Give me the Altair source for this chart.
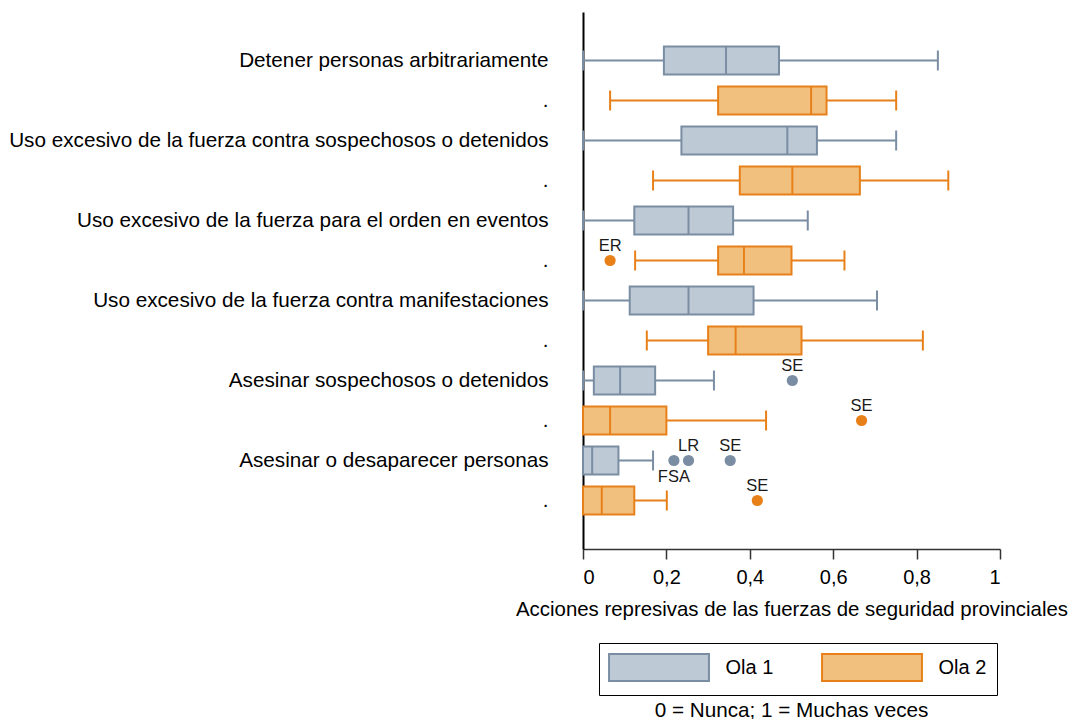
import altair as alt
import pandas as pd

categories = [
    "Detener personas arbitrariamente",
    "Uso excesivo de la fuerza contra sospechosos o detenidos",
    "Uso excesivo de la fuerza para el orden en eventos",
    "Uso excesivo de la fuerza contra manifestaciones",
    "Asesinar sospechosos o detenidos",
    "Asesinar o desaparecer personas",
]
waves = ["Ola 1", "Ola 2"]

ola1_low = [0.0, 0.0, 0.0, 0.0, 0.0, 0.0]
ola1_q1 = [0.194, 0.236, 0.123, 0.112, 0.026, 0.0]
ola1_med = [0.343, 0.490, 0.253, 0.253, 0.089, 0.022]
ola1_q3 = [0.470, 0.561, 0.360, 0.409, 0.173, 0.085]
ola1_high = [0.851, 0.751, 0.539, 0.705, 0.314, 0.168]

ola2_low = [0.065, 0.168, 0.125, 0.153, 0.0, 0.0]
ola2_q1 = [0.324, 0.376, 0.324, 0.300, 0.0, 0.0]
ola2_med = [0.547, 0.502, 0.386, 0.366, 0.065, 0.045]
ola2_q3 = [0.584, 0.664, 0.500, 0.524, 0.200, 0.123]
ola2_high = [0.751, 0.876, 0.627, 0.815, 0.439, 0.201]

out_cat = [2, 4, 4, 5, 5, 5, 5]
out_wave = ["Ola 2", "Ola 1", "Ola 2", "Ola 1", "Ola 1", "Ola 1", "Ola 2"]
out_value = [0.065, 0.502, 0.668, 0.218, 0.253, 0.353, 0.418]
out_label = ["ER", "SE", "SE", "FSA", "LR", "SE", "SE"]
out_side = ["above", "above", "above", "below", "above", "above", "above"]

FONT = "Liberation Sans"
FILL = ["#bdc9d5", "#f1c07f"]
STROKE = ["#7a8da3", "#e8801a"]


def key(i, w):
    return categories[i] if w == "Ola 1" else categories[i] + "#2"


rows = []
for i in range(len(categories)):
    rows.append(dict(key=key(i, "Ola 1"), ola="Ola 1", low=ola1_low[i], q1=ola1_q1[i],
                     med=ola1_med[i], q3=ola1_q3[i], high=ola1_high[i]))
    rows.append(dict(key=key(i, "Ola 2"), ola="Ola 2", low=ola2_low[i], q1=ola2_q1[i],
                     med=ola2_med[i], q3=ola2_q3[i], high=ola2_high[i]))
box_df = pd.DataFrame(rows)
box_df["grupo"] = box_df["ola"]
ydomain = [r["key"] for r in rows]

out_df = pd.DataFrame(dict(
    key=[key(c, w) for c, w in zip(out_cat, out_wave)],
    grupo=out_wave, value=out_value, label=out_label, side=out_side,
))

xscale = alt.Scale(domain=[0, 1], nice=False, zero=False)
yscale = alt.Scale(type="band", domain=ydomain, paddingInner=0, paddingOuter=0.7125)

xaxis = alt.Axis(
    values=[0, 0.2, 0.4, 0.6, 0.8, 1],
    labelExpr="replace(format(datum.value, '.1~f'), '.', ',')",
    grid=False, domainColor="#333333", domainWidth=1.5, tickColor="#333333",
    tickWidth=1.5, tickSize=10, labelFont=FONT, labelFontSize=20, labelColor="#000000",
    labelPadding=8, title="Acciones represivas de las fuerzas de seguridad provinciales",
    titleFont=FONT, titleFontSize=20.4, titleFontWeight="normal", titleColor="#000000",
    titlePadding=12,
)
yaxis = alt.Axis(
    title=None, ticks=False, tickSize=0, domainColor="#000000", domainWidth=2,
    labelFont=FONT, labelFontSize=20.7, labelColor="#000000", labelPadding=35,
    labelExpr="indexof(datum.value, '#2') >= 0 ? '.' : datum.value",
    labelLimit=800, grid=False,
)

X = lambda f: alt.X(f"{f}:Q", scale=xscale, axis=xaxis)
Y = alt.Y("key:N", scale=yscale, axis=yaxis, sort=ydomain)

legend = alt.Legend(
    title=None, orient="none", legendX=16, legendY=631, direction="horizontal",
    symbolType="M-3.7,-1L3.7,-1L3.7,1L-3.7,1Z", symbolSize=729,
    symbolOffset=35.5, symbolStrokeWidth=2, symbolOpacity=1,
    labelFont=FONT, labelFontSize=20, labelColor="#000000", labelOffset=52,
    columnPadding=44, padding=10, strokeColor="#000000",
)

# line-type marks use their own colour scale (distinct field), so it does not merge into the legend
color_line = alt.Color("grupo:N", scale=alt.Scale(range=STROKE), legend=None)

base = alt.Chart(box_df)
whisk = base.mark_rule(strokeWidth=2).encode(x=X("low"), x2="high:Q", y=Y, color=color_line)
box = base.mark_bar(size=28, strokeWidth=2).encode(
    x=X("q1"), x2="q3:Q", y=Y,
    fill=alt.Fill("ola:N", scale=alt.Scale(domain=waves, range=FILL), legend=legend),
    stroke=alt.Stroke("ola:N", scale=alt.Scale(domain=waves, range=STROKE), legend=legend),
)
med = base.mark_tick(thickness=2, size=28, opacity=1).encode(x=X("med"), y=Y, color=color_line)
cap_lo = base.mark_tick(thickness=2, size=20, opacity=1).encode(x=X("low"), y=Y, color=color_line)
cap_hi = base.mark_tick(thickness=2, size=20, opacity=1).encode(x=X("high"), y=Y, color=color_line)

obase = alt.Chart(out_df)
pts = obase.mark_circle(size=125, opacity=1).encode(x=X("value"), y=Y, color=color_line)
lab_up = obase.transform_filter("datum.side == 'above'").mark_text(
    baseline="bottom", dy=-7, font=FONT, fontSize=16.5, color="#1a1a1a"
).encode(x=X("value"), y=Y, text="label:N")
lab_dn = obase.transform_filter("datum.side == 'below'").mark_text(
    baseline="top", dy=8, font=FONT, fontSize=16.5, color="#1a1a1a"
).encode(x=X("value"), y=Y, text="label:N")

chart = alt.layer(whisk, box, med, cap_lo, cap_hi, pts, lab_up, lab_dn).properties(
    width=417, height=537,
    autosize=alt.AutoSizeParams(type="none"),
    padding={"left": 575, "top": 4, "right": 68, "bottom": 170},
    title=alt.TitleParams(
        "0 = Nunca; 1 = Muchas veces", orient="bottom", anchor="middle",
        font=FONT, fontSize=20.7, fontWeight="normal", color="#000000", offset=5,
    ),
).configure(background="white").configure_view(stroke=None)

chart.save("out.html", embed_options={"renderer": "svg", "actions": False})
